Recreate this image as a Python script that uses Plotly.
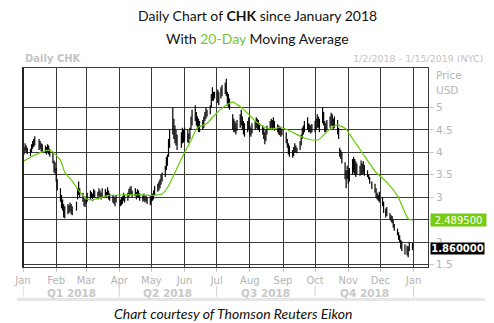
import pandas as pd
import plotly.graph_objects as go

# ---------------- data ----------------
holidays = ["2018-01-01", "2018-01-15", "2018-02-19", "2018-03-30", "2018-05-28",
            "2018-07-04", "2018-09-03", "2018-11-22", "2018-12-05", "2018-12-25"]

highs = [
    # Jan
    4.12, 4.20, 4.15, 4.10, 4.08, 4.18, 4.25, 4.30, 4.36, 4.30, 4.25, 4.20, 4.18, 4.15, 4.12, 4.18, 4.15, 4.08, 4.00, 3.82, 3.78,
    # Feb
    3.65, 3.40, 3.20, 3.05, 2.95, 2.85, 2.80, 2.85, 2.82, 2.88, 2.85, 2.80, 2.90, 3.20, 3.35, 3.20, 3.10, 3.00, 2.95,
    # Mar
    3.02, 3.10, 3.15, 3.12, 3.08, 3.18, 3.15, 3.12, 3.20, 3.15, 3.10, 3.20, 3.18, 3.12, 3.22, 3.15, 3.08, 3.05, 3.02, 2.98, 3.05,
    # Apr
    2.95, 3.00, 3.02, 3.10, 3.05, 3.10, 3.18, 3.22, 3.25, 3.15, 3.20, 3.12, 3.18, 3.15, 3.08, 3.05, 3.08, 3.02, 3.05, 3.00, 3.02,
    # May
    3.05, 3.08, 3.15, 3.25, 3.30, 3.35, 3.40, 3.50, 3.55, 3.70, 3.90, 3.95, 4.30, 4.50, 5.00, 4.75, 4.60, 4.50, 4.40, 4.45, 4.55, 4.50,
    # Jun
    4.55, 4.50, 4.42, 4.55, 4.80, 4.95, 5.05, 4.90, 4.80, 4.75, 4.70, 4.72, 4.80, 4.90, 5.00, 4.95, 5.05, 5.30, 5.45, 5.35, 5.35,
    # Jul
    5.40, 5.35, 5.45, 5.50, 5.55, 5.64, 5.35, 5.30, 5.20, 4.85, 4.75, 4.70, 4.65, 4.72, 4.85, 4.95, 4.80, 4.70, 4.65, 4.70, 4.78,
    # Aug
    4.60, 4.55, 4.65, 4.70, 4.78, 4.75, 4.72, 4.65, 4.60, 4.55, 4.45, 4.50, 4.60, 4.70, 4.75, 4.72, 4.78, 4.70, 4.62, 4.60, 4.58, 4.55, 4.52,
    # Sep
    4.45, 4.30, 4.20, 4.15, 4.05, 4.12, 4.20, 4.15, 4.10, 4.25, 4.40, 4.55, 4.60, 4.70, 4.78, 4.65, 4.62, 4.60, 4.63,
    # Oct
    4.70, 4.75, 4.85, 4.80, 4.75, 5.00, 4.90, 4.70, 4.65, 4.72, 4.80, 4.88, 4.85, 4.75, 4.80, 4.72, 4.55, 4.10, 4.05, 4.00, 3.78, 3.60, 3.70,
    # Nov
    3.60, 3.65, 3.85, 3.90, 3.85, 3.80, 3.75, 3.70, 3.82, 3.75, 3.80, 3.72, 3.60, 3.50, 3.45, 3.35, 3.30, 3.20, 3.10, 3.05, 3.12,
    # Dec
    3.00, 2.90, 2.75, 2.78, 2.65, 2.60, 2.58, 2.50, 2.40, 2.30, 2.22, 2.15, 2.05, 2.02, 1.95, 1.92, 1.90, 2.00, 1.98,
]

lows = [
    # Jan
    3.95, 4.02, 4.00, 3.96, 3.92, 4.00, 4.08, 4.12, 4.15, 4.05, 4.08, 4.02, 4.00, 3.98, 3.95, 4.00, 3.95, 3.90, 3.75, 3.55, 3.52,
    # Feb
    3.35, 3.15, 2.90, 2.75, 2.70, 2.55, 2.53, 2.62, 2.65, 2.68, 2.62, 2.60, 2.70, 2.95, 3.05, 3.00, 2.90, 2.80, 2.78,
    # Mar
    2.85, 2.90, 2.95, 2.98, 2.92, 3.00, 2.98, 2.95, 3.02, 2.98, 2.95, 3.00, 3.02, 2.98, 3.05, 2.95, 2.92, 2.88, 2.85, 2.80, 2.88,
    # Apr
    2.80, 2.82, 2.85, 2.92, 2.88, 2.92, 3.00, 3.05, 3.05, 3.00, 3.02, 2.95, 3.00, 2.98, 2.92, 2.90, 2.92, 2.88, 2.90, 2.85, 2.82,
    # May
    2.88, 2.92, 2.95, 3.05, 3.12, 3.15, 3.20, 3.28, 3.35, 3.45, 3.60, 3.70, 3.90, 4.10, 4.40, 4.30, 4.20, 4.15, 4.05, 4.10, 4.20, 4.22,
    # Jun
    4.25, 4.22, 4.20, 4.30, 4.50, 4.60, 4.70, 4.60, 4.55, 4.45, 4.45, 4.50, 4.55, 4.70, 4.75, 4.80, 4.85, 5.00, 5.15, 5.15, 5.20,
    # Jul
    5.10, 5.05, 5.20, 5.25, 5.30, 5.25, 5.05, 5.00, 4.95, 4.50, 4.45, 4.45, 4.40, 4.48, 4.55, 4.60, 4.50, 4.40, 4.35, 4.45, 4.50,
    # Aug
    4.38, 4.35, 4.42, 4.50, 4.55, 4.52, 4.50, 4.45, 4.40, 4.30, 4.18, 4.25, 4.40, 4.50, 4.55, 4.50, 4.55, 4.48, 4.45, 4.40, 4.38, 4.35, 4.38,
    # Sep
    4.20, 4.10, 3.95, 3.90, 3.88, 3.92, 4.00, 4.00, 3.98, 4.05, 4.15, 4.30, 4.40, 4.45, 4.50, 4.45, 4.45, 4.42, 4.45,
    # Oct
    4.45, 4.50, 4.55, 4.55, 4.45, 4.65, 4.60, 4.45, 4.45, 4.50, 4.55, 4.60, 4.58, 4.52, 4.55, 4.40, 4.30, 3.90, 3.85, 3.75, 3.40, 3.20, 3.40,
    # Nov
    3.30, 3.35, 3.50, 3.55, 3.50, 3.45, 3.50, 3.48, 3.50, 3.50, 3.52, 3.48, 3.45, 3.40, 3.30, 3.18, 3.10, 2.98, 2.95, 2.92, 2.88,
    # Dec
    2.80, 2.65, 2.55, 2.58, 2.50, 2.45, 2.42, 2.32, 2.25, 2.15, 2.05, 2.00, 1.85, 1.80, 1.72, 1.70, 1.66, 1.80, 1.82,
]

ma_dates = ["2018-01-02", "2018-01-12", "2018-01-25", "2018-01-29", "2018-02-05", "2018-02-09",
            "2018-02-16", "2018-02-22", "2018-03-01", "2018-03-05", "2018-03-13", "2018-03-22",
            "2018-04-04", "2018-04-19", "2018-05-02", "2018-05-11", "2018-05-17", "2018-05-22",
            "2018-06-01", "2018-06-07", "2018-06-13", "2018-06-21", "2018-07-02", "2018-07-09",
            "2018-07-16", "2018-07-24", "2018-07-30", "2018-08-06", "2018-08-15", "2018-08-23",
            "2018-08-29", "2018-09-07", "2018-09-20", "2018-09-27", "2018-10-04", "2018-10-11",
            "2018-10-17", "2018-10-22", "2018-10-30", "2018-11-02", "2018-11-13", "2018-11-27",
            "2018-12-06", "2018-12-17", "2018-12-27", "2018-12-31"]
ma_values = [3.81, 3.94, 4.05, 4.01, 3.82, 3.56,
             3.36, 3.15, 2.97, 2.94, 2.98, 3.04,
             3.05, 3.05, 3.04, 3.07, 3.25, 3.50,
             4.00, 4.26, 4.55, 4.63, 4.90, 5.04,
             5.12, 5.00, 4.87, 4.70, 4.56, 4.52,
             4.56, 4.48, 4.33, 4.28, 4.28, 4.44,
             4.56, 4.61, 4.52, 4.41, 4.03, 3.55,
             3.36, 3.03, 2.52, 2.4895]

last_ma = 2.489500
last_price = 1.860000

month_ticks = pd.date_range("2018-01-01", "2019-01-01", freq="MS")
month_labels = ["Jan", "Feb", "Mar", "Apr", "May", "Jun", "Jul", "Aug", "Sep", "Oct", "Nov", "Dec", "Jan"]
quarters = ["Q1 2018", "Q2 2018", "Q3 2018", "Q4 2018"]
quarter_bounds = ["2018-01-01", "2018-04-01", "2018-07-01", "2018-10-01", "2019-01-01"]
y_ticks = [1.5, 2, 2.5, 3, 3.5, 4, 4.5, 5]
y_labels = ["1.5", "2", "", "3", "3.5", "4", "4.5", "5"]   # 2.5 is hidden behind the MA value box

# ---------------- build ----------------
days = pd.bdate_range("2018-01-01", "2018-12-31")
days = days[~days.isin(pd.to_datetime(holidays))]
assert len(days) == len(highs) == len(lows), (len(days), len(highs), len(lows))

bx, by = [], []
for d, h, l in zip(days, highs, lows):
    bx += [d, d, None]
    by += [l, h, None]

GRID = "#3a3a3a"
LBL = "#b4b4b4"
TICKFONT = "DejaVu Sans"

fig = go.Figure()
fig.add_trace(go.Scatter(x=bx, y=by, mode="lines", line=dict(color="black", width=1.2),
                         hoverinfo="skip", showlegend=False))
fig.add_trace(go.Scatter(x=pd.to_datetime(ma_dates), y=ma_values, mode="lines",
                         line=dict(color="#66cc00", width=1.2, shape="spline", smoothing=0.6),
                         showlegend=False))

def px_x(px):
    return (px - 23) / 405.0

def px_y(py):
    return (267 - py) / 199.0

ann = []
ann.append(dict(text="Daily Chart of <b>CHK</b> since January 2018", x=px_x(257), y=px_y(15),
                xref="paper", yref="paper", showarrow=False, xanchor="center", yanchor="middle",
                font=dict(family="Lato", size=14, color="#111")))
ann.append(dict(text="With <span style='color:#77c43a'>20-Day</span> Moving Average", x=px_x(257), y=px_y(38),
                xref="paper", yref="paper", showarrow=False, xanchor="center", yanchor="middle",
                font=dict(family="Lato", size=14, color="#111")))
ann.append(dict(text="<b>Daily CHK</b>", x=0, y=px_y(58), xref="paper", yref="paper", showarrow=False,
                xanchor="left", yanchor="middle", font=dict(family=TICKFONT, size=10, color="#c4c4c4")))
ann.append(dict(text="1/2/2018 - 1/15/2019 (NYC)", x=px_x(485), y=px_y(58), xref="paper", yref="paper",
                showarrow=False, xanchor="right", yanchor="middle",
                font=dict(family=TICKFONT, size=9.5, color="#c4c4c4")))
ann.append(dict(text="Price", x=px_x(434), y=px_y(75), xref="paper", yref="paper", showarrow=False,
                xanchor="left", yanchor="middle", font=dict(family=TICKFONT, size=10.5, color=LBL)))
ann.append(dict(text="USD", x=px_x(434), y=px_y(90), xref="paper", yref="paper", showarrow=False,
                xanchor="left", yanchor="middle", font=dict(family=TICKFONT, size=10.5, color=LBL)))
ann.append(dict(text="%.6f" % last_ma, x=px_x(430), y=last_ma, xref="paper", yref="y", showarrow=False,
                xanchor="left", yanchor="middle", bgcolor="#76cc12", borderpad=0, width=55, height=12,
                font=dict(family=TICKFONT, size=10, color="white")))
ann.append(dict(text="<b>%.6f</b>" % last_price, x=px_x(430), y=last_price, xref="paper", yref="y",
                showarrow=False, xanchor="left", yanchor="middle", bgcolor="black", borderpad=0, width=53, height=11,
                font=dict(family=TICKFONT, size=10, color="white")))
for i, q in enumerate(quarters):
    mid = pd.Timestamp(quarter_bounds[i]) + (pd.Timestamp(quarter_bounds[i + 1]) - pd.Timestamp(quarter_bounds[i])) / 2
    ann.append(dict(text="<b>%s</b>" % q, x=mid, y=px_y(293), xref="x", yref="paper", showarrow=False,
                    xanchor="center", yanchor="middle", font=dict(family=TICKFONT, size=10.5, color="#c8c8c8")))
ann.append(dict(text="<i>Chart courtesy of Thomson Reuters Eikon</i>", x=px_x(233), y=px_y(313),
                xref="paper", yref="paper", showarrow=False, xanchor="center", yanchor="middle",
                font=dict(family="Lato", size=14, color="#111")))

shapes = []
for qb in quarter_bounds:
    shapes.append(dict(type="line", xref="x", yref="paper", x0=qb, x1=qb, y0=px_y(286), y1=px_y(297),
                       line=dict(color="#d0d0d0", width=1)))
shapes.append(dict(type="line", xref="paper", yref="paper", x0=px_x(17), x1=px_x(485), y0=px_y(299.5),
                   y1=px_y(299.5), line=dict(color="#e6e6e6", width=3)))
shapes.append(dict(type="line", xref="paper", yref="paper", x0=0, x1=0, y0=0, y1=1,
                   line=dict(color="#222", width=2)))

fig.update_layout(
    width=494, height=323,
    margin=dict(l=23, r=66, t=68, b=56),
    paper_bgcolor="white", plot_bgcolor="white",
    annotations=ann, shapes=shapes,
    xaxis=dict(type="date", range=["2018-01-01", "2019-01-14 12:00"],
               tickvals=month_ticks, ticktext=month_labels,
               showgrid=True, gridcolor=GRID, gridwidth=1,
               ticks="outside", ticklen=4, tickcolor="#c8c8c8",
               tickfont=dict(family=TICKFONT, size=10, color=LBL),
               showline=True, linecolor=GRID, linewidth=1, mirror=True, zeroline=False),
    yaxis=dict(side="right", range=[1.444, 5.88], tickvals=y_ticks, ticktext=y_labels,
               showgrid=True, gridcolor=GRID, gridwidth=1,
               ticks="outside", ticklen=5, tickcolor="#c8c8c8",
               tickfont=dict(family=TICKFONT, size=10.5, color=LBL),
               showline=True, linecolor=GRID, linewidth=1, mirror=True, zeroline=False),
)

fig.write_html("out.html")
